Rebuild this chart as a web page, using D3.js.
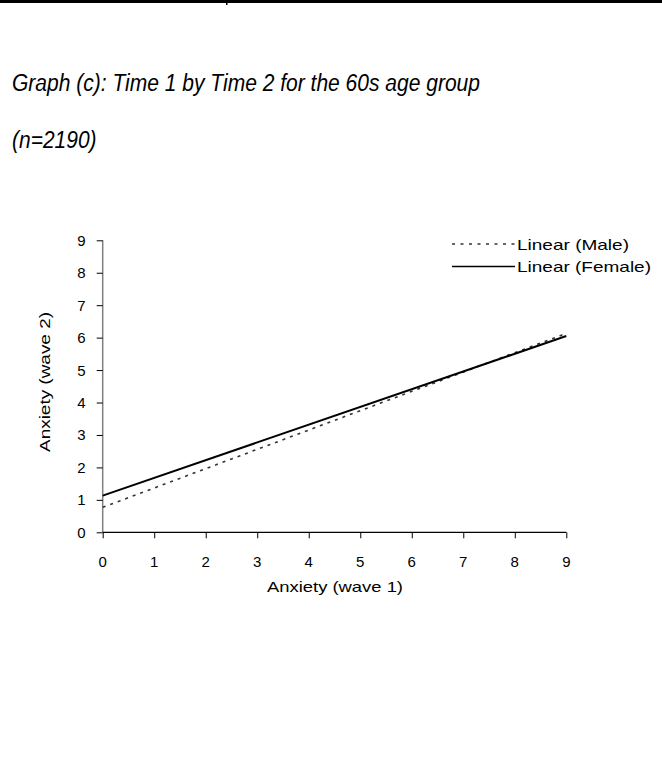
<!DOCTYPE html>
<html>
<head>
<meta charset="utf-8">
<script src="https://cdn.jsdelivr.net/npm/d3@7/dist/d3.min.js"></script>
<style>
  html, body { margin: 0; padding: 0; background: #fff; }
  svg { display: block; }
  text { font-family: "Liberation Sans", Arial, sans-serif; fill: #000; }
  .tick-label { font-family: Arial, "Liberation Sans", sans-serif; font-size: 15px; writing-mode: horizontal-tb; }
</style>
</head>
<body>
<svg id="chart" width="662" height="757"></svg>
<script>
// Fitted regression lines: Anxiety wave 2 predicted from wave 1
const xTicks = [0, 1, 2, 3, 4, 5, 6, 7, 8, 9];
const yTicks = [0, 1, 2, 3, 4, 5, 6, 7, 8, 9];
const seriesNames = ["Linear (Male)", "Linear (Female)"];
const maleLine = [{ x: 0, y: 0.77 }, { x: 9, y: 6.13 }];
const femaleLine = [{ x: 0, y: 1.13 }, { x: 9, y: 6.05 }];

const svg = d3.select("#chart");

// Page rule at the top
svg.append("rect").attr("x", 0).attr("y", 0).attr("width", 662).attr("height", 3).attr("fill", "#000");
svg.append("rect").attr("x", 226).attr("y", 3).attr("width", 1.5).attr("height", 2).attr("fill", "#000");

// Title
svg.append("text")
  .attr("transform", "translate(12,91) scale(1,1.12)")
  .attr("font-size", 21).attr("font-style", "italic")
  .attr("textLength", 468).attr("lengthAdjust", "spacingAndGlyphs")
  .text("Graph (c): Time 1 by Time 2 for the 60s age group");
svg.append("text")
  .attr("transform", "translate(12,148) scale(1,1.12)")
  .attr("font-size", 21).attr("font-style", "italic")
  .text("(n=2190)");

const x = d3.scaleLinear().domain([0, 9]).range([102.7, 566.3]);
const y = d3.scaleLinear().domain([0, 9]).range([532.3, 240.3]);

// Y axis: line and tick marks from d3, labels placed separately
const yAxis = svg.append("g")
  .attr("transform", `translate(${x(0)},0)`)
  .call(d3.axisLeft(y).tickValues(yTicks).tickSize(6).tickFormat(""));
yAxis.select(".domain").attr("stroke", "#808080").attr("stroke-width", 1.5).attr("d", `M0,${y(9)}V${y(0)}`);
yAxis.selectAll(".tick line").attr("stroke", "#000");
svg.append("g").selectAll("text").data(yTicks).join("text")
  .attr("class", "tick-label")
  .attr("transform", d => `translate(${x(0) - 17},${y(d) + 5.5})`)
  .attr("text-anchor", "end")
  .text(d => String(d));

// X axis
const xAxis = svg.append("g")
  .attr("transform", `translate(0,${y(0)})`)
  .call(d3.axisBottom(x).tickValues(xTicks).tickSize(6).tickFormat(""));
xAxis.select(".domain").attr("stroke", "#000").attr("stroke-width", 1.2).attr("d", `M${x(0)},0H${x(9)}`);
xAxis.selectAll(".tick line").attr("stroke", "#000");
svg.append("g").selectAll("text").data(xTicks).join("text")
  .attr("class", "tick-label")
  .attr("transform", d => `translate(${x(d)},${y(0) + 35})`)
  .attr("text-anchor", "middle")
  .text(d => String(d));

// Axis titles
svg.append("text")
  .attr("x", 267).attr("y", 592)
  .attr("font-size", 15)
  .attr("textLength", 136).attr("lengthAdjust", "spacingAndGlyphs")
  .text("Anxiety (wave 1)");
svg.append("text")
  .attr("transform", `translate(50,452) rotate(-90)`)
  .attr("font-size", 15)
  .attr("textLength", 140).attr("lengthAdjust", "spacingAndGlyphs")
  .text("Anxiety (wave 2)");

// Trend lines
const line = d3.line().x(d => x(d.x)).y(d => y(d.y));
svg.append("path").datum(maleLine)
  .attr("d", line).attr("fill", "none")
  .attr("stroke", "#333").attr("stroke-width", 1.6).attr("stroke-dasharray", "3,5");
svg.append("path").datum(femaleLine)
  .attr("d", line).attr("fill", "none")
  .attr("stroke", "#000").attr("stroke-width", 2);

// Legend
const legend = svg.append("g");
const styles = [
  { stroke: "#333", width: 1.6, dash: "3,5.5", len: 112 },
  { stroke: "#000", width: 1.5, dash: null, len: 134 }
];
seriesNames.forEach((name, i) => {
  const ly = 244 + i * 22.5;
  legend.append("line")
    .attr("x1", 452).attr("x2", 515).attr("y1", ly).attr("y2", ly)
    .attr("stroke", styles[i].stroke).attr("stroke-width", styles[i].width)
    .attr("stroke-dasharray", styles[i].dash);
  legend.append("text")
    .attr("x", 517).attr("y", ly + 5.5)
    .attr("font-size", 15)
    .attr("textLength", styles[i].len).attr("lengthAdjust", "spacingAndGlyphs")
    .text(name);
});
</script>
</body>
</html>
